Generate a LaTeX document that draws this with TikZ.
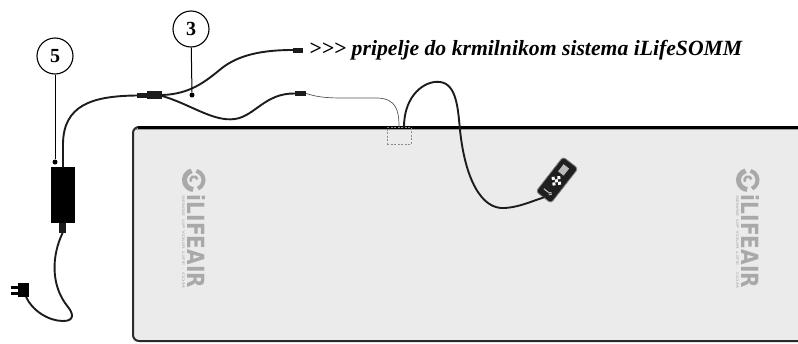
\documentclass[tikz,border=0pt]{standalone}
\usepackage{fontspec}
\setmainfont{Liberation Serif}
\newfontfamily\brandfont{DejaVu Sans}
\usetikzlibrary{calc}

\definecolor{matfill}{HTML}{EBEBEB}
\definecolor{matedge}{HTML}{2A2A2A}
\definecolor{cablecol}{HTML}{1C1C1C}
\definecolor{wiregray}{HTML}{555555}
\definecolor{logogray}{HTML}{A9A9A9}
\definecolor{boxdash}{HTML}{8C8C8C}

\tikzset{
  cable/.style={draw=cablecol, line width=1.9pt, line cap=round},
  thinwire/.style={draw=wiregray, line width=0.7pt},
  callout/.style={circle, draw=black, line width=1.1pt, fill=white,
    minimum size=36pt, inner sep=0pt,
    font=\bfseries\fontsize{20}{20}\selectfont},
  leader/.style={draw=black, line width=1pt},
  pin/.style={circle, fill=black, inner sep=0pt, minimum size=5pt},
  blk/.style={fill=cablecol, inner sep=0pt, draw=none},
  portbox/.style={draw=boxdash, dash pattern=on 2pt off 1.5pt, line width=0.6pt,
    inner sep=0pt, minimum width=24pt, minimum height=17pt},
  brand/.style={rotate=-90, text=logogray, inner sep=0pt},
  key/.style={fill=white, inner sep=0pt, minimum size=3pt, rotate=45},
  pics/brandmark/.style={code={
    \draw[logogray, line width=5pt] (0,0) ++(105:9.5pt) arc[start angle=105, end angle=265, radius=9.5pt];
    \draw[logogray, line width=4pt] (0,0) ++(-65:9.5pt) arc[start angle=-65, end angle=75, radius=9.5pt];
    \draw[logogray, line width=2.5pt] (0,0) ++(210:3.5pt) arc[start angle=210, end angle=10, radius=3.5pt];
    \node[brand] (-word) at (2,61.5) {\resizebox{93pt}{18pt}{\brandfont\bfseries iLIFEAIR}};
    \node[brand] (-tag) at (-10.5,61.5) {\resizebox{93pt}{2.6pt}{\brandfont SENSE UP YOUR LIFE . COM}};
  }},
}

\begin{document}
\begin{tikzpicture}[x=1pt, y=-1pt]
\useasboundingbox (0,0) rectangle (798,343);
\clip (0,0) rectangle (798,343);

% mattress pad
\path[fill=matfill, draw=matedge, line width=2pt, rounded corners=6pt]
  (133,127) rectangle (840,341);
\draw[black, line width=3pt] (138,127) -- (800,127);
\draw[gray!75, line width=0.6pt] (136,129.5) -- (800,129.5);

% brand marks printed on the pad
\pic (logoL) at (194,180) {brandmark};
\pic (logoR) at (748,180) {brandmark};

% cable entry on the pad
\node[portbox] (portbox) at (399,135.5) {};
\coordinate (port) at (399,127);
\coordinate (rport) at (404,127);

% power supply and mains plug
\node[fill=black, inner sep=0pt, minimum width=24pt, minimum height=56pt] (adapter) at (63,195) {};
\node[blk, minimum width=7pt, minimum height=10pt] (relief) at (62.5,228) {};
\node[fill=black, inner sep=0pt, minimum width=11pt, minimum height=14pt] (plug) at (23.5,290) {};
\node[fill=black, inner sep=0pt, minimum width=7pt, minimum height=3pt] (prongA) at (14.5,287.5) {};
\node[fill=black, inner sep=0pt, minimum width=7pt, minimum height=3pt] (prongB) at (14.5,293.5) {};

% splitter and cable ends
\node[blk, minimum width=10pt, minimum height=5pt] (jA) at (142,95.5) {};
\node[blk, minimum width=15pt, minimum height=8pt] (jB) at (154.5,95) {};
\node[blk, minimum width=10pt, minimum height=5pt] (endUp) at (298,50) {};
\node[blk, minimum width=11pt, minimum height=5pt] (endLow) at (300.5,93.5) {};

% hand controller
\node[fill=black!88, draw=black!50, line width=0.8pt, rounded corners=3pt,
  minimum width=44pt, minimum height=19pt, inner sep=0pt, rotate=52] (remote) at (557,180) {};
\begin{scope}[shift={(remote.center)}, rotate=52, transform shape]
  \node[fill=gray!55, inner sep=0pt, minimum width=9pt, minimum height=7pt] (rscreen) at (12,-1) {};
  \node[key] (kU) at (3,0) {};
  \node[key] (kD) at (-5,0) {};
  \node[key] (kL) at (-1,-4) {};
  \node[key] (kR) at (-1,4) {};
  \node[key] (kC) at (-1,0) {};
  \node[circle, draw=white, line width=0.5pt, inner sep=0pt, minimum size=3pt] (rlogo) at (-15,3) {};
  \node[fill=white!80!black, inner sep=0pt, minimum width=1pt, minimum height=6pt] (rbar) at (-15,-2) {};
\end{scope}

% cables
\draw[cable] (adapter.north) -- ++(0,-22)
  .. controls (63,105) and (92,96) .. (jA.west);
\draw[cable] (jB.east)
  .. controls (190,94) and (205,82) .. (222,68)
  .. controls (240,54) and (265,50) .. (endUp.west);
\draw[cable] ([yshift=-1pt]jB.east)
  .. controls (190,104) and (213,122) .. (235,119)
  .. controls (255,116) and (265,93) .. (endLow.west);
\draw[thinwire] (endLow.east)
  .. controls (320,98) and (330,98) .. (350,98) -- (378,98)
  .. controls (396,99) and (399,110) .. (port);
\draw[cable] (rport)
  .. controls (404,95) and (425,80) .. (440,82)
  .. controls (457,84) and (458,110) .. (460,130)
  .. controls (465,178) and (481,210) .. (505,208)
  .. controls (520,207) and (532,201) .. (remote.west);
\draw[cable] (relief.south)
  .. controls (52,255) and (50,285) .. (68,307)
  .. controls (74,314.5) and (74,321) .. (63,321)
  .. controls (48,321) and (32,310) .. ([xshift=-3pt]plug.south east);

% callouts
\node[callout] (c5) at (55,56) {5};
\node[callout] (c3) at (191,29) {3};
\node[pin] (d5) at (55,162) {};
\node[pin] (d3) at (192,95) {};
\draw[leader] (c5) -- (d5);
\draw[leader] (c3) -- (d3);

% destination note
\node[anchor=base west, inner sep=0pt] (dest) at (309,55)
  {\resizebox{433pt}{!}{\bfseries\itshape >{}>{}> pripelje do krmilnikom sistema iLifeSOMM}};
\end{tikzpicture}
\end{document}
